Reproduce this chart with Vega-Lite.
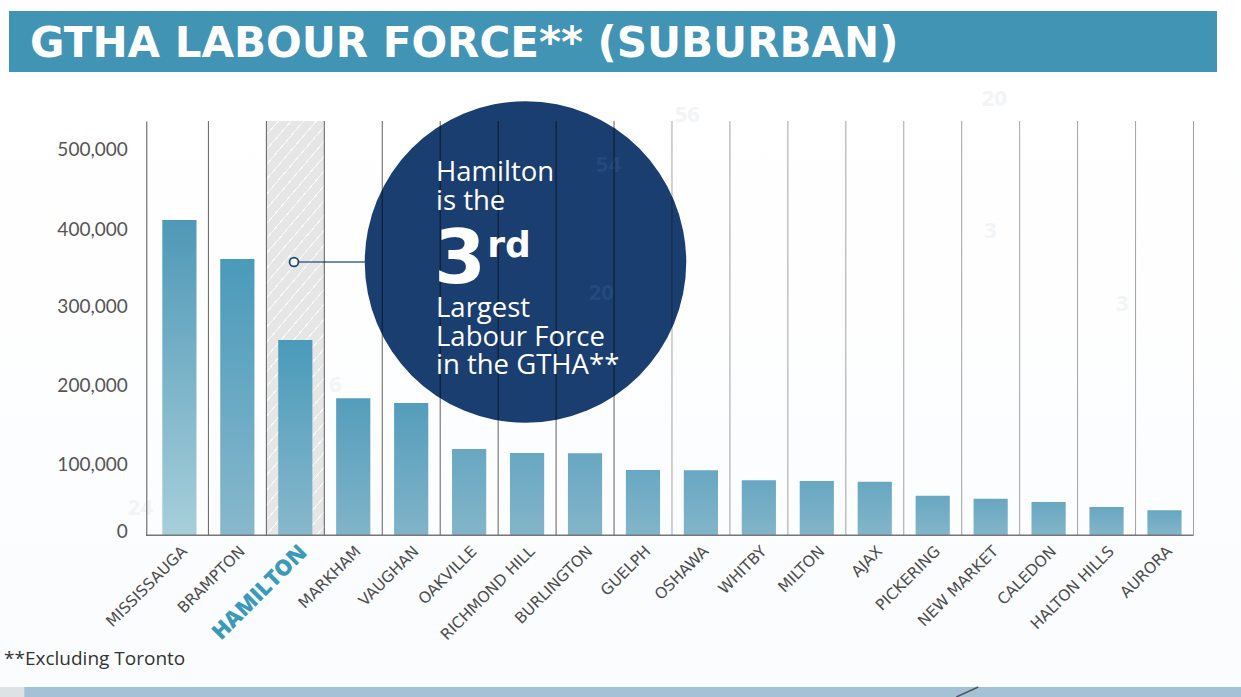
{"$schema":"https://vega.github.io/schema/vega-lite/v6.json","width":1047.2,"height":414.3,"autosize":{"type":"none"},"padding":{"left":146.3,"top":121,"right":47.5,"bottom":161.7},"background":"#ffffff","title":{"text":"GTHA LABOUR FORCE** (SUBURBAN)","anchor":"start","frame":"group","dx":-116.3,"offset":0,"dy":88,"baseline":"alphabetic","font":"DejaVu Sans","fontWeight":"bold","fontSize":42,"color":"#ffffff","zindex":1},"data":{"values":[{"city":"MISSISSAUGA","value":409000},{"city":"BRAMPTON","value":358500},{"city":"HAMILTON","value":253400},{"city":"MARKHAM","value":177800},{"city":"VAUGHAN","value":171700},{"city":"OAKVILLE","value":112000},{"city":"RICHMOND HILL","value":106800},{"city":"BURLINGTON","value":106400},{"city":"GUELPH","value":84700},{"city":"OSHAWA","value":84300},{"city":"WHITBY","value":71400},{"city":"MILTON","value":70500},{"city":"AJAX","value":69600},{"city":"PICKERING","value":51400},{"city":"NEW MARKET","value":47500},{"city":"CALEDON","value":43200},{"city":"HALTON HILLS","value":36700},{"city":"AURORA","value":32400}]},"params":[{"name":"cities","value":["MISSISSAUGA","BRAMPTON","HAMILTON","MARKHAM","VAUGHAN","OAKVILLE","RICHMOND HILL","BURLINGTON","GUELPH","OSHAWA","WHITBY","MILTON","AJAX","PICKERING","NEW MARKET","CALEDON","HALTON HILLS","AURORA"]}],"resolve":{"scale":{"x":"independent"}},"layer":[{"data":{"values":[{}]},"mark":{"type":"rect","color":{"gradient":"linear","x1":0,"y1":0,"x2":0,"y2":1,"stops":[{"offset":0,"color":"#ffffff"},{"offset":1,"color":"#fbfcfe"}]}},"encoding":{"x":{"value":-146.3},"x2":{"value":1094.7},"y":{"value":-49},"y2":{"value":566}}},{"data":{"values":[{}]},"mark":{"type":"rect","color":"#a5c1d6"},"encoding":{"x":{"value":-146.3},"x2":{"value":1094.7},"y":{"value":566},"y2":{"value":576}}},{"data":{"values":[{}]},"mark":{"type":"rect","color":"#dde2e5"},"encoding":{"x":{"value":-146.3},"x2":{"value":-122},"y":{"value":566},"y2":{"value":576}}},{"data":{"values":[{}]},"mark":{"type":"rule","color":"#555555","strokeWidth":1.5},"encoding":{"x":{"value":810},"x2":{"value":832},"y":{"value":576},"y2":{"value":566}}},{"data":{"values":[{}]},"mark":{"type":"rect","color":"#4294b5"},"encoding":{"x":{"value":-137.3},"x2":{"value":1070.7},"y":{"value":-110},"y2":{"value":-49}}},{"data":{"values":[{}]},"mark":{"type":"text","font":"Open Sans","fontSize":22,"fontWeight":"bold","color":"#f2f4f6","text":"56"},"encoding":{"x":{"value":541},"y":{"value":-6}}},{"data":{"values":[{}]},"mark":{"type":"text","font":"Open Sans","fontSize":22,"fontWeight":"bold","color":"#f2f4f6","text":"20"},"encoding":{"x":{"value":848},"y":{"value":-22}}},{"data":{"values":[{}]},"mark":{"type":"text","font":"Open Sans","fontSize":22,"fontWeight":"bold","color":"#f2f4f6","text":"3"},"encoding":{"x":{"value":844},"y":{"value":110}}},{"data":{"values":[{}]},"mark":{"type":"text","font":"Open Sans","fontSize":22,"fontWeight":"bold","color":"#f2f4f6","text":"3"},"encoding":{"x":{"value":976},"y":{"value":183}}},{"data":{"values":[{}]},"mark":{"type":"text","font":"Open Sans","fontSize":22,"fontWeight":"bold","color":"#f2f4f6","text":"6"},"encoding":{"x":{"value":189},"y":{"value":264}}},{"data":{"values":[{}]},"mark":{"type":"text","font":"Open Sans","fontSize":22,"fontWeight":"bold","color":"#f2f4f6","text":"24"},"encoding":{"x":{"value":-6},"y":{"value":387}}},{"transform":[{"filter":"datum.city=='HAMILTON'"}],"mark":{"type":"rect","color":{"gradient":"linear","x1":0,"y1":0,"x2":0.19,"y2":1.16,"stops":[{"offset":0,"color":"#e6e6e6"},{"offset":0.027,"color":"#e6e6e6"},{"offset":0.027,"color":"#fafafa"},{"offset":0.03,"color":"#fafafa"},{"offset":0.03,"color":"#e6e6e6"},{"offset":0.057,"color":"#e6e6e6"},{"offset":0.057,"color":"#fafafa"},{"offset":0.06,"color":"#fafafa"},{"offset":0.06,"color":"#e6e6e6"},{"offset":0.087,"color":"#e6e6e6"},{"offset":0.087,"color":"#fafafa"},{"offset":0.09,"color":"#fafafa"},{"offset":0.09,"color":"#e6e6e6"},{"offset":0.117,"color":"#e6e6e6"},{"offset":0.117,"color":"#fafafa"},{"offset":0.12,"color":"#fafafa"},{"offset":0.12,"color":"#e6e6e6"},{"offset":0.147,"color":"#e6e6e6"},{"offset":0.147,"color":"#fafafa"},{"offset":0.15,"color":"#fafafa"},{"offset":0.15,"color":"#e6e6e6"},{"offset":0.177,"color":"#e6e6e6"},{"offset":0.177,"color":"#fafafa"},{"offset":0.18,"color":"#fafafa"},{"offset":0.18,"color":"#e6e6e6"},{"offset":0.207,"color":"#e6e6e6"},{"offset":0.207,"color":"#fafafa"},{"offset":0.21,"color":"#fafafa"},{"offset":0.21,"color":"#e6e6e6"},{"offset":0.237,"color":"#e6e6e6"},{"offset":0.237,"color":"#fafafa"},{"offset":0.24,"color":"#fafafa"},{"offset":0.24,"color":"#e6e6e6"},{"offset":0.267,"color":"#e6e6e6"},{"offset":0.267,"color":"#fafafa"},{"offset":0.27,"color":"#fafafa"},{"offset":0.27,"color":"#e6e6e6"},{"offset":0.297,"color":"#e6e6e6"},{"offset":0.297,"color":"#fafafa"},{"offset":0.3,"color":"#fafafa"},{"offset":0.3,"color":"#e6e6e6"},{"offset":0.327,"color":"#e6e6e6"},{"offset":0.327,"color":"#fafafa"},{"offset":0.33,"color":"#fafafa"},{"offset":0.33,"color":"#e6e6e6"},{"offset":0.357,"color":"#e6e6e6"},{"offset":0.357,"color":"#fafafa"},{"offset":0.36,"color":"#fafafa"},{"offset":0.36,"color":"#e6e6e6"},{"offset":0.387,"color":"#e6e6e6"},{"offset":0.387,"color":"#fafafa"},{"offset":0.39,"color":"#fafafa"},{"offset":0.39,"color":"#e6e6e6"},{"offset":0.417,"color":"#e6e6e6"},{"offset":0.417,"color":"#fafafa"},{"offset":0.42,"color":"#fafafa"},{"offset":0.42,"color":"#e6e6e6"},{"offset":0.447,"color":"#e6e6e6"},{"offset":0.447,"color":"#fafafa"},{"offset":0.45,"color":"#fafafa"},{"offset":0.45,"color":"#e6e6e6"},{"offset":0.477,"color":"#e6e6e6"},{"offset":0.477,"color":"#fafafa"},{"offset":0.48,"color":"#fafafa"},{"offset":0.48,"color":"#e6e6e6"},{"offset":0.507,"color":"#e6e6e6"},{"offset":0.507,"color":"#fafafa"},{"offset":0.51,"color":"#fafafa"},{"offset":0.51,"color":"#e6e6e6"},{"offset":0.537,"color":"#e6e6e6"},{"offset":0.537,"color":"#fafafa"},{"offset":0.54,"color":"#fafafa"},{"offset":0.54,"color":"#e6e6e6"},{"offset":0.567,"color":"#e6e6e6"},{"offset":0.567,"color":"#fafafa"},{"offset":0.57,"color":"#fafafa"},{"offset":0.57,"color":"#e6e6e6"},{"offset":0.597,"color":"#e6e6e6"},{"offset":0.597,"color":"#fafafa"},{"offset":0.6,"color":"#fafafa"},{"offset":0.6,"color":"#e6e6e6"},{"offset":0.627,"color":"#e6e6e6"},{"offset":0.627,"color":"#fafafa"},{"offset":0.63,"color":"#fafafa"},{"offset":0.63,"color":"#e6e6e6"},{"offset":0.657,"color":"#e6e6e6"},{"offset":0.657,"color":"#fafafa"},{"offset":0.66,"color":"#fafafa"},{"offset":0.66,"color":"#e6e6e6"},{"offset":0.687,"color":"#e6e6e6"},{"offset":0.687,"color":"#fafafa"},{"offset":0.69,"color":"#fafafa"},{"offset":0.69,"color":"#e6e6e6"},{"offset":0.717,"color":"#e6e6e6"},{"offset":0.717,"color":"#fafafa"},{"offset":0.72,"color":"#fafafa"},{"offset":0.72,"color":"#e6e6e6"},{"offset":0.747,"color":"#e6e6e6"},{"offset":0.747,"color":"#fafafa"},{"offset":0.75,"color":"#fafafa"},{"offset":0.75,"color":"#e6e6e6"},{"offset":0.777,"color":"#e6e6e6"},{"offset":0.777,"color":"#fafafa"},{"offset":0.78,"color":"#fafafa"},{"offset":0.78,"color":"#e6e6e6"},{"offset":0.807,"color":"#e6e6e6"},{"offset":0.807,"color":"#fafafa"},{"offset":0.81,"color":"#fafafa"},{"offset":0.81,"color":"#e6e6e6"},{"offset":0.837,"color":"#e6e6e6"},{"offset":0.837,"color":"#fafafa"},{"offset":0.84,"color":"#fafafa"},{"offset":0.84,"color":"#e6e6e6"},{"offset":0.867,"color":"#e6e6e6"},{"offset":0.867,"color":"#fafafa"},{"offset":0.87,"color":"#fafafa"},{"offset":0.87,"color":"#e6e6e6"},{"offset":0.897,"color":"#e6e6e6"},{"offset":0.897,"color":"#fafafa"},{"offset":0.9,"color":"#fafafa"},{"offset":0.9,"color":"#e6e6e6"},{"offset":0.927,"color":"#e6e6e6"},{"offset":0.927,"color":"#fafafa"},{"offset":0.93,"color":"#fafafa"},{"offset":0.93,"color":"#e6e6e6"},{"offset":0.957,"color":"#e6e6e6"},{"offset":0.957,"color":"#fafafa"},{"offset":0.96,"color":"#fafafa"},{"offset":0.96,"color":"#e6e6e6"},{"offset":0.987,"color":"#e6e6e6"},{"offset":0.987,"color":"#fafafa"},{"offset":0.99,"color":"#fafafa"},{"offset":0.99,"color":"#e6e6e6"},{"offset":1,"color":"#e6e6e6"}]}},"encoding":{"x":{"field":"city","type":"nominal","axis":null,"scale":{"domain":{"expr":"cities"},"paddingInner":0,"paddingOuter":0.036,"align":1}},"y":{"value":0},"y2":{"value":414.3}}},{"data":{"values":[{}]},"mark":{"type":"point","shape":"circle","filled":true,"color":"#1b3e70","opacity":1,"size":103362},"encoding":{"x":{"value":379.2},"y":{"value":141}}},{"data":{"values":[{}]},"mark":{"type":"text","font":"Open Sans","fontSize":22,"fontWeight":"bold","color":"#234a7c","text":"54"},"encoding":{"x":{"value":462},"y":{"value":44}}},{"data":{"values":[{}]},"mark":{"type":"text","font":"Open Sans","fontSize":22,"fontWeight":"bold","color":"#234a7c","text":"20"},"encoding":{"x":{"value":455},"y":{"value":172}}},{"data":{"values":[{}]},"mark":{"type":"rule","color":"#3d6a91","strokeWidth":1.5},"encoding":{"x":{"value":152},"x2":{"value":219},"y":{"value":141}}},{"data":{"values":[{}]},"mark":{"type":"point","shape":"circle","filled":true,"fill":"#ffffff","stroke":"#1b4a7a","strokeWidth":1.8,"opacity":1,"size":80},"encoding":{"x":{"value":147.7},"y":{"value":141}}},{"mark":{"type":"rule","color":"#000000","strokeWidth":1},"encoding":{"x":{"field":"city","type":"nominal","bandPosition":1,"axis":null,"scale":{"domain":{"expr":"cities"},"paddingInner":0,"paddingOuter":0.036,"align":1}},"opacity":{"condition":{"test":"datum.value<90000","value":0.36},"value":0.62}}},{"transform":[{"filter":"datum.city=='MISSISSAUGA'"}],"mark":{"type":"bar","color":{"gradient":"linear","x1":0,"y1":0,"x2":0,"y2":1,"stops":[{"offset":0,"color":"#4f98b7"},{"offset":1,"color":"#a7cfda"}]}},"encoding":{"x":{"field":"city","type":"nominal","scale":{"domain":{"expr":"cities"},"paddingInner":0.41,"paddingOuter":0.241,"align":0.573},"title":null,"axis":{"zindex":1,"domain":false,"ticks":false,"labelAngle":-45,"labelAlign":"right","labelBaseline":"middle","labelPadding":13,"labelOffset":{"condition":{"test":"datum.value=='HAMILTON'","value":8},"value":5},"labelFont":{"condition":{"test":"datum.value=='HAMILTON'","value":"Open Sans"},"value":"DejaVu Sans"},"labelFontSize":{"condition":{"test":"datum.value=='HAMILTON'","value":22},"value":15.5},"labelFontWeight":{"condition":{"test":"datum.value=='HAMILTON'","value":800},"value":400},"labelColor":{"condition":{"test":"datum.value=='HAMILTON'","value":"#3a9ab8"},"value":"#4d4d4d"},"labelOverlap":false,"labelBound":false,"labelFlush":false,"labelLimit":300}},"y":{"field":"value","type":"quantitative","scale":{"domain":[0,537630],"nice":false},"title":null,"axis":{"zindex":1,"values":[0,100000,200000,300000,400000,500000],"format":",d","grid":false,"ticks":false,"domain":true,"domainColor":"#555555","domainWidth":1,"labelPadding":19,"labelFont":"Lato","labelFontSize":19,"labelColor":"#555555","labelOffset":{"condition":[{"test":"datum.value==0","value":-4},{"test":"datum.value==100000","value":6},{"test":"datum.value==200000","value":4.7},{"test":"datum.value==300000","value":2.7},{"test":"datum.value==400000","value":2}],"value":0}}}}},{"transform":[{"filter":"datum.city=='BRAMPTON'||datum.city=='HAMILTON'"}],"mark":{"type":"bar","color":{"gradient":"linear","x1":0,"y1":0,"x2":0,"y2":1,"stops":[{"offset":0,"color":"#4a9aba"},{"offset":1,"color":"#88b8cc"}]}},"encoding":{"x":{"field":"city","type":"nominal","axis":null,"scale":{"domain":{"expr":"cities"},"paddingInner":0.41,"paddingOuter":0.241,"align":0.573}},"y":{"field":"value","type":"quantitative"}}},{"transform":[{"filter":"datum.city=='MARKHAM'||datum.city=='VAUGHAN'"}],"mark":{"type":"bar","color":{"gradient":"linear","x1":0,"y1":0,"x2":0,"y2":1,"stops":[{"offset":0,"color":"#559dbb"},{"offset":1,"color":"#80b4c9"}]}},"encoding":{"x":{"field":"city","type":"nominal","axis":null,"scale":{"domain":{"expr":"cities"},"paddingInner":0.41,"paddingOuter":0.241,"align":0.573}},"y":{"field":"value","type":"quantitative"}}},{"transform":[{"filter":"datum.value<150000"}],"mark":{"type":"bar","color":{"gradient":"linear","x1":0,"y1":0,"x2":0,"y2":1,"stops":[{"offset":0,"color":"#68a7c2"},{"offset":1,"color":"#83b5c9"}]}},"encoding":{"x":{"field":"city","type":"nominal","axis":null,"scale":{"domain":{"expr":"cities"},"paddingInner":0.41,"paddingOuter":0.241,"align":0.573}},"y":{"field":"value","type":"quantitative"}}},{"data":{"values":[{}]},"mark":{"type":"rule","color":"#777777","strokeWidth":1.5},"encoding":{"x":{"value":0},"x2":{"value":1047.2},"y":{"value":414.3}}},{"data":{"values":[{}]},"mark":{"type":"text","align":"left","baseline":"middle","lineHeight":28.5,"font":"Open Sans","fontSize":27.5,"color":"#ffffff","text":["Hamilton","is the"]},"encoding":{"x":{"value":289.7},"y":{"value":52}}},{"data":{"values":[{}]},"mark":{"type":"text","align":"left","baseline":"alphabetic","font":"DejaVu Sans","fontWeight":"bold","fontSize":74,"color":"#ffffff","text":"3"},"encoding":{"x":{"value":288},"y":{"value":162}}},{"data":{"values":[{}]},"mark":{"type":"text","align":"left","baseline":"alphabetic","font":"DejaVu Sans","fontWeight":"bold","fontSize":36,"color":"#ffffff","text":"rd"},"encoding":{"x":{"value":341},"y":{"value":136}}},{"data":{"values":[{}]},"mark":{"type":"text","align":"left","baseline":"middle","lineHeight":28.5,"font":"Open Sans","fontSize":27.5,"color":"#ffffff","text":["Largest","Labour Force","in the GTHA**"]},"encoding":{"x":{"value":289.7},"y":{"value":188}}},{"data":{"values":[{}]},"mark":{"type":"text","align":"left","baseline":"middle","font":"Open Sans","fontSize":19,"color":"#333333","text":"**Excluding Toronto"},"encoding":{"x":{"value":-142.3},"y":{"value":538}}}]}
